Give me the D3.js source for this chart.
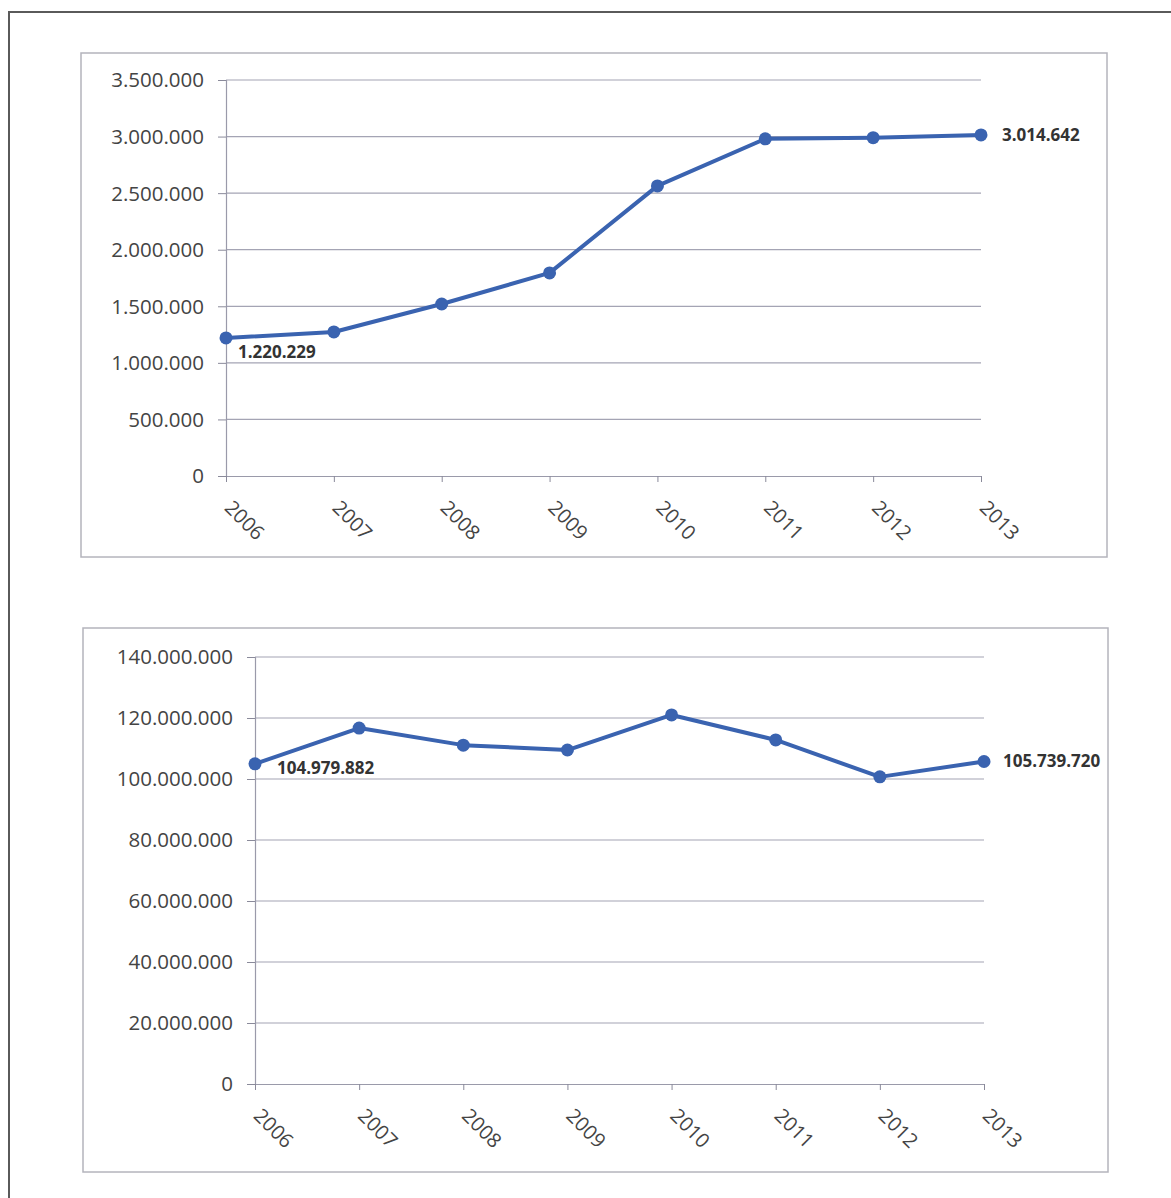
<!DOCTYPE html>
<html>
<head>
<meta charset="utf-8">
<script src="https://cdn.jsdelivr.net/npm/d3@7"></script>
<style>
  body { margin: 0; background: #fff; }
  svg { display: block; font-family: "Open Sans", sans-serif; }
</style>
</head>
<body>
<svg id="chart" width="1171" height="1198"></svg>
<script>
const years = ["2006", "2007", "2008", "2009", "2010", "2011", "2012", "2013"];
const seriesTop = [1220229, 1273000, 1520000, 1795000, 2564000, 2980000, 2990000, 3014642];
const seriesBottom = [104979882, 116700000, 111100000, 109500000, 121000000, 112800000, 100700000, 105739720];
const ticksTop = [0, 500000, 1000000, 1500000, 2000000, 2500000, 3000000, 3500000];
const ticksBottom = [0, 20000000, 40000000, 60000000, 80000000, 100000000, 120000000, 140000000];
const labelledTop = [0, 7];
const labelledBottom = [0, 7];

const svg = d3.select("#chart");
const fmt = v => d3.format(",")(v).replace(/,/g, ".");
const lineColor = "#3a63b0";

// outer frame
svg.append("path").attr("d", "M9,1198 V12 H1171")
  .attr("fill", "none").attr("stroke", "#5a5a5a").attr("stroke-width", 2);

function drawChart(cfg) {
  const g = svg.append("g");
  // chart box
  g.append("rect").attr("x", cfg.box[0]).attr("y", cfg.box[1])
    .attr("width", cfg.box[2]).attr("height", cfg.box[3])
    .attr("fill", "none").attr("stroke", "#b4b4bc").attr("stroke-width", 1.5);

  const x = d3.scalePoint().domain(years).range([cfg.x0, cfg.x1]);
  const y = d3.scaleLinear().domain([0, cfg.max]).range([cfg.y0, cfg.y1]);

  // gridlines
  g.append("g").selectAll("line").data(cfg.ticks.filter(t => t > 0)).join("line")
    .attr("x1", cfg.x0).attr("x2", cfg.x1)
    .attr("y1", d => y(d)).attr("y2", d => y(d))
    .attr("stroke", "#a4a4b4").attr("stroke-width", 1.2);

  // y axis
  const ya = g.append("g").attr("transform", `translate(${cfg.x0},0)`)
    .call(d3.axisLeft(y).tickValues(cfg.ticks).tickFormat(fmt).tickSize(8).tickPadding(14));
  ya.select(".domain").attr("stroke", "#9a9aaa").attr("stroke-width", 1.2);
  ya.selectAll(".tick line").attr("stroke", "#8a8a9a");
  ya.selectAll("text").attr("fill", "#444").style("font-size", "20.5px")
    .style("font-family", "'Open Sans', sans-serif").attr("dy", "0.34em");

  // x axis
  const xa = g.append("g").attr("transform", `translate(0,${cfg.y0})`)
    .call(d3.axisBottom(x).tickSize(6).tickSizeOuter(0));
  xa.select(".domain").attr("stroke", "#9a9aaa").attr("stroke-width", 1.2);
  xa.selectAll(".tick line").attr("stroke", "#8a8a9a");
  xa.selectAll("text").attr("fill", "#444").style("font-size", "20px")
    .style("font-family", "'Open Sans', sans-serif")
    .attr("text-anchor", "start").attr("x", 0).attr("y", 0).attr("dy", "0")
    .attr("transform", "translate(-3,33) rotate(45)");

  // line
  const line = d3.line().x((d, i) => x(years[i])).y(d => y(d));
  g.append("path").datum(cfg.data).attr("d", line)
    .attr("fill", "none").attr("stroke", lineColor).attr("stroke-width", 4)
    .attr("stroke-linejoin", "round");
  g.append("g").selectAll("circle").data(cfg.data).join("circle")
    .attr("cx", (d, i) => x(years[i])).attr("cy", d => y(d)).attr("r", 6.5)
    .attr("fill", lineColor);

  // data labels
  g.append("g").selectAll("text").data(cfg.labelled).join("text")
    .attr("x", i => x(years[i]) + cfg.labelOffsets[i][0])
    .attr("y", i => y(cfg.data[i]) + cfg.labelOffsets[i][1])
    .attr("dy", "0.35em")
    .attr("fill", "#333").style("font-size", "17px").style("font-weight", "bold")
    .text(i => fmt(cfg.data[i]));
}

drawChart({
  box: [81, 53, 1026, 504],
  x0: 226, x1: 981, y0: 476, y1: 80, max: 3500000,
  ticks: ticksTop, data: seriesTop, labelled: labelledTop,
  labelOffsets: { 0: [12, 14], 7: [21, 0] }
});

drawChart({
  box: [83, 628, 1025, 544],
  x0: 255, x1: 984, y0: 1084, y1: 657, max: 140000000,
  ticks: ticksBottom, data: seriesBottom, labelled: labelledBottom,
  labelOffsets: { 0: [22, 4], 7: [19, 0] }
});
</script>
</body>
</html>
